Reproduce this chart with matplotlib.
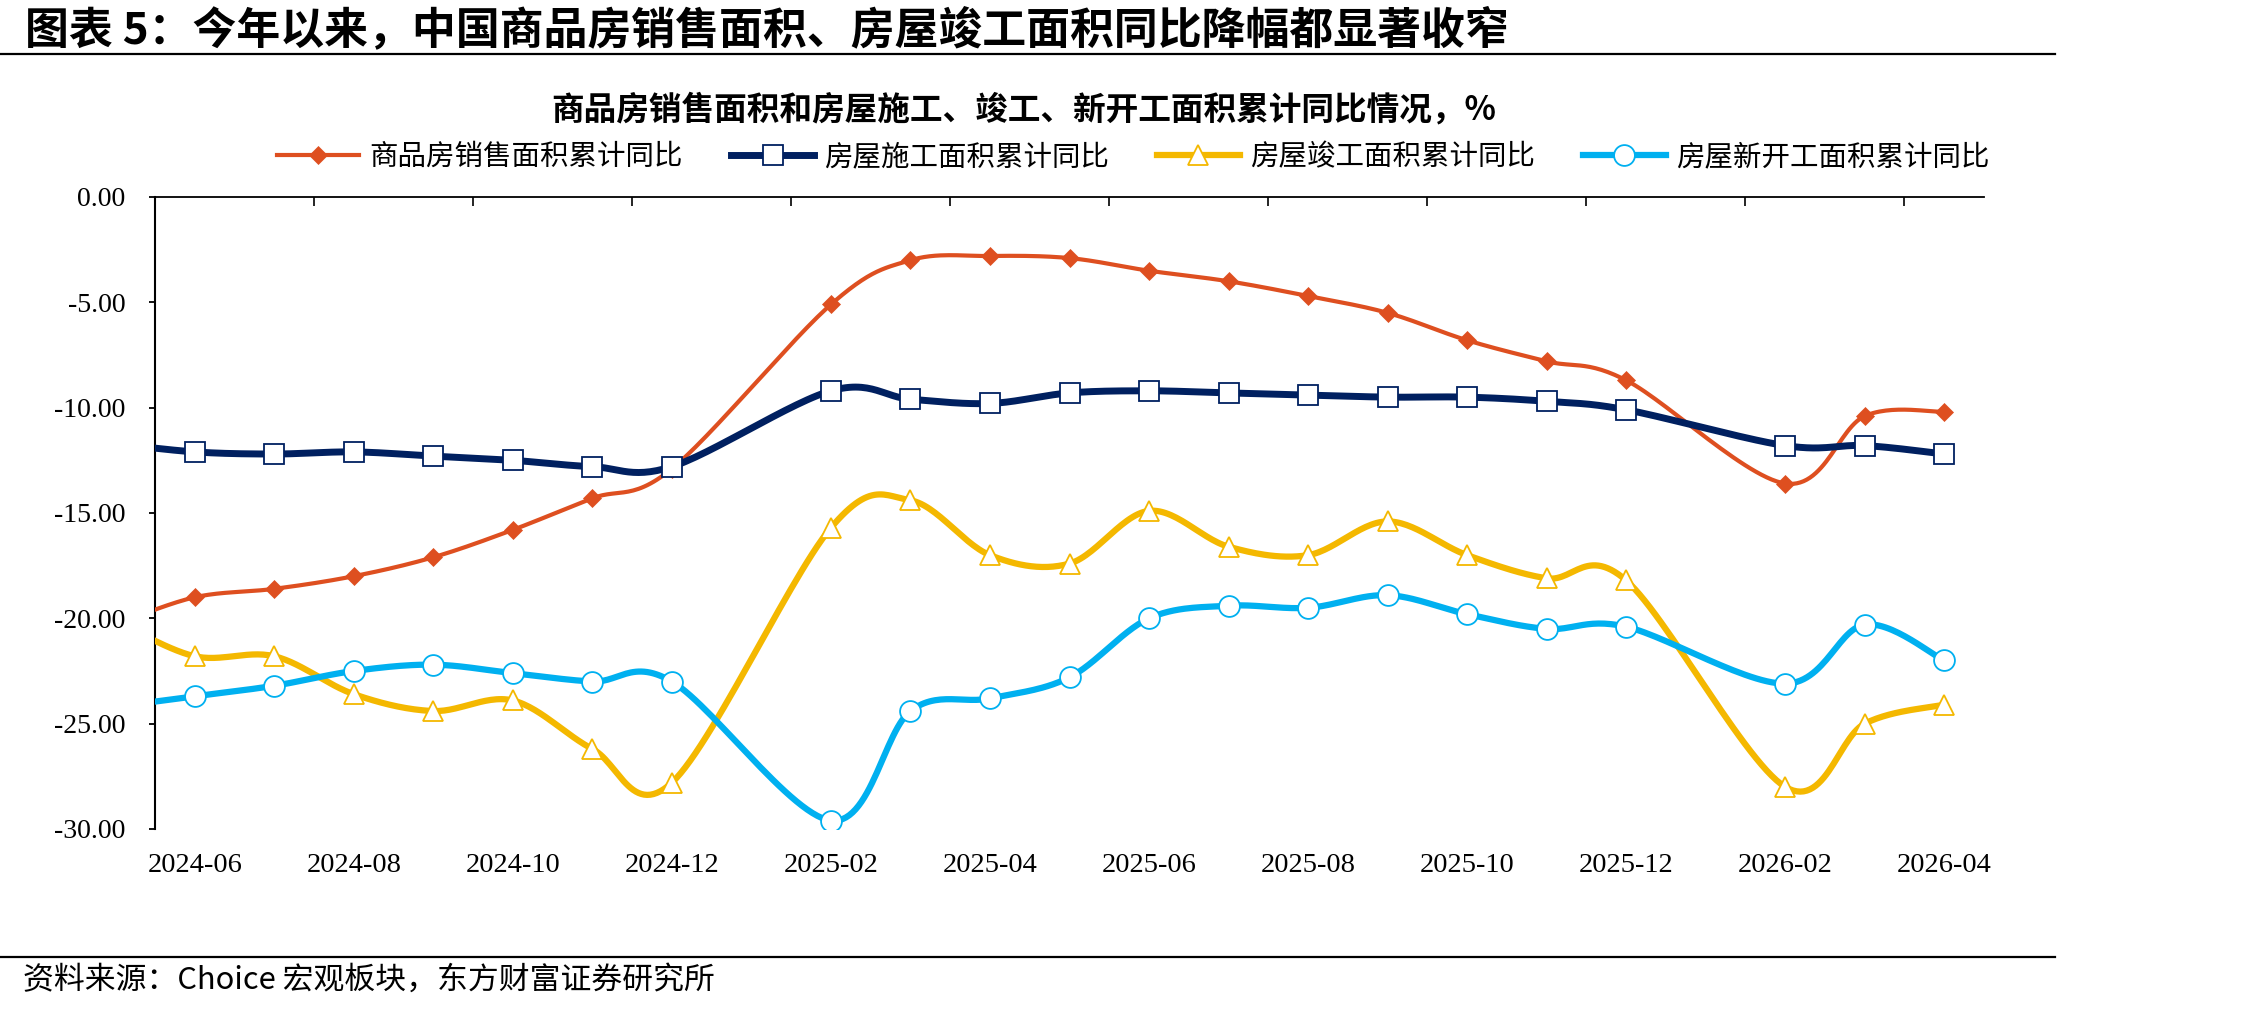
import numpy as np
import matplotlib
matplotlib.use("Agg")
import matplotlib.pyplot as plt
from matplotlib.lines import Line2D

plt.rcParams['font.family'] = ['Noto Sans CJK SC', 'DejaVu Sans']

# Data (cumulative YoY, %); 2025-01 and 2026-01 have no release
months = ["2024-05", "2024-06", "2024-07", "2024-08", "2024-09", "2024-10", "2024-11", "2024-12",
          "2025-01", "2025-02", "2025-03", "2025-04", "2025-05", "2025-06", "2025-07", "2025-08",
          "2025-09", "2025-10", "2025-11", "2025-12", "2026-01", "2026-02", "2026-03", "2026-04"]
nan = np.nan
sales = [-20.3, -19.0, -18.6, -18.0, -17.1, -15.8, -14.3, -12.9, nan, -5.1, -3.0, -2.8,
         -2.9, -3.5, -4.0, -4.7, -5.5, -6.8, -7.8, -8.7, nan, -13.6, -10.4, -10.2]
construction = [-11.7, -12.1, -12.2, -12.1, -12.3, -12.5, -12.8, -12.8, nan, -9.2, -9.6, -9.8,
                -9.3, -9.2, -9.3, -9.4, -9.5, -9.5, -9.7, -10.1, nan, -11.8, -11.8, -12.2]
completion = [-20.1, -21.8, -21.8, -23.6, -24.4, -23.9, -26.2, -27.8, nan, -15.7, -14.4, -17.0,
              -17.4, -14.9, -16.6, -17.0, -15.4, -17.0, -18.1, -18.2, nan, -28.0, -25.0, -24.1]
starts = [-24.2, -23.7, -23.2, -22.5, -22.2, -22.6, -23.0, -23.0, nan, -29.6, -24.4, -23.8,
          -22.8, -20.0, -19.4, -19.5, -18.9, -19.8, -20.5, -20.4, nan, -23.1, -20.3, -22.0]

labels = ["商品房销售面积累计同比", "房屋施工面积累计同比", "房屋竣工面积累计同比", "房屋新开工面积累计同比"]
colors = ["#DE4F20", "#002060", "#F4B800", "#00B0F0"]


def smooth(xs, ys, n=30):
    # Excel-like smoothed line (Catmull-Rom as cubic Bezier), skipping gaps
    pts = [(x, y) for x, y in zip(xs, ys) if not np.isnan(y)]
    pts = np.array(pts, dtype=float)
    out = []
    t = np.linspace(0, 1, n)[:, None]
    for i in range(len(pts) - 1):
        p0 = pts[i - 1] if i > 0 else pts[i]
        p1, p2 = pts[i], pts[i + 1]
        p3 = pts[i + 2] if i + 2 < len(pts) else pts[i + 1]
        c1 = p1 + (p2 - p0) / 6
        c2 = p2 - (p3 - p1) / 6
        seg = (1 - t) ** 3 * p1 + 3 * (1 - t) ** 2 * t * c1 + 3 * (1 - t) * t ** 2 * c2 + t ** 3 * p2
        out.append(seg)
    out = np.vstack(out)
    return out[:, 0], out[:, 1]


W, H = 2245, 1011
fig = plt.figure(figsize=(W / 100, H / 100), dpi=100)
ax = fig.add_axes([155 / W, 1 - 829 / H, (1984 - 155) / W, (829 - 197) / H])

x = np.arange(len(months))
series = [sales, construction, completion, starts]
styles = [
    dict(lw=3.0, marker="D", ms=9, mfc="#DE4F20", mec="#DE4F20", mew=0.5),
    dict(lw=5.0, marker="s", ms=15, mfc="white", mec="#002060", mew=1.3),
    dict(lw=4.5, marker="^", ms=15, mfc="white", mec="#F4B800", mew=1.3),
    dict(lw=4.5, marker="o", ms=15, mfc="white", mec="#00B0F0", mew=1.3),
]

handles = []
for vals, col, st, lab in zip(series, colors, styles, labels):
    sx, sy = smooth(x, vals)
    ax.plot(sx, sy, color=col, lw=st["lw"], solid_capstyle="round", zorder=3)
    v = np.array(vals)
    ok = ~np.isnan(v) & (x >= 1)
    ax.plot(x[ok], v[ok], linestyle="none", marker=st["marker"], ms=st["ms"],
            mfc=st["mfc"], mec=st["mec"], mew=st["mew"], zorder=4)
    handles.append(Line2D([], [], color=col, **st))

ax.set_xlim(0.5, len(months) - 0.5)
ax.set_ylim(-30, 0)

# axes styling: category axis sits on y=0 (top), labels at the bottom
for s in ["right", "bottom"]:
    ax.spines[s].set_visible(False)
ax.spines["top"].set_linewidth(1.3)
ax.spines["left"].set_linewidth(1.5)

ax.set_yticks(np.arange(-30, 1, 5))
ax.set_yticklabels(["%.2f" % abs(v) if v == 0 else "%.2f" % v for v in np.arange(-30, 1, 5)],
                   family="Liberation Serif", fontsize=20)
ax.tick_params(axis="y", direction="out", length=4.5, width=1.3, pad=17)

ax.set_xticks(x[1::2])
ax.set_xticklabels(months[1::2], family="Liberation Serif", fontsize=20.5)
ax.set_xticks(np.arange(0.5, len(months) - 0.5, 2), minor=True)
ax.tick_params(axis="x", which="major", length=0, pad=17)
ax.tick_params(axis="x", which="minor", top=True, bottom=False, direction="in", length=6.5, width=1.2)

# titles, legend, rules, source
fig.text(25 / W, 1 - 30 / H, "图表 5：今年以来，中国商品房销售面积、房屋竣工面积同比降幅都显著收窄",
         fontsize=31.6, fontweight="bold", va="center", ha="left")
fig.add_artist(Line2D([0, 2055 / W], [1 - 54 / H] * 2, transform=fig.transFigure, color="black", lw=1.6))
fig.text(1024 / W, 1 - 110 / H, "商品房销售面积和房屋施工、竣工、新开工面积累计同比情况，%",
         fontsize=23.5, fontweight="bold", va="center", ha="center")
fig.legend(handles, labels, loc="center", bbox_to_anchor=(1133 / W, 1 - 157 / H), ncol=4,
           frameon=False, fontsize=20.5, handlelength=2.9, handletextpad=0.35, columnspacing=1.7)
fig.add_artist(Line2D([0, 2055 / W], [1 - 957 / H] * 2, transform=fig.transFigure, color="black", lw=1.6))
fig.text(23 / W, 1 - 980 / H, "资料来源：Choice 宏观板块，东方财富证券研究所",
         fontsize=22.2, va="center", ha="left")

fig.savefig("out.png", dpi=100)
